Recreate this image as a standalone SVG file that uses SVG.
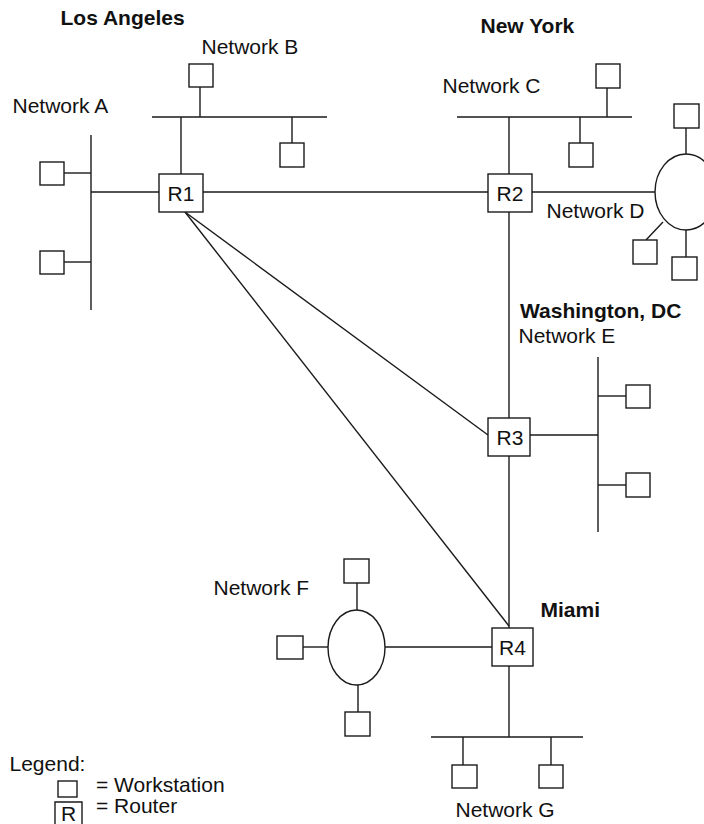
<svg xmlns="http://www.w3.org/2000/svg" width="704" height="824" viewBox="0 0 704 824">
<style>
  .ln { stroke: #1a1a1a; stroke-width: 1.4; fill: none; }
  .ws { stroke: #1a1a1a; stroke-width: 1.4; fill: #ffffff; }
  .rt { stroke: #1a1a1a; stroke-width: 1.4; fill: #ffffff; }
  .el { stroke: #1a1a1a; stroke-width: 1.4; fill: #ffffff; }
  text { font-family: "Liberation Sans", Arial, Helvetica, sans-serif; font-size: 21px; fill: #111111; }
  .b { font-weight: bold; }
  .c { text-anchor: middle; }
</style>
<rect x="0" y="0" width="704" height="824" fill="#ffffff"/>

<g id="connectors">
  <line class="ln" x1="91" y1="192" x2="159" y2="192"/>
  <line class="ln" x1="181" y1="117" x2="181" y2="174"/>
  <line class="ln" x1="203" y1="192" x2="488" y2="192"/>
  <line class="ln" x1="509" y1="117" x2="509" y2="174"/>
  <line class="ln" x1="532" y1="192" x2="655" y2="192"/>
  <line class="ln" x1="509" y1="212" x2="509" y2="418"/>
  <line class="ln" x1="185" y1="212" x2="488" y2="435"/>
  <line class="ln" x1="185" y1="212" x2="509" y2="626"/>
  <line class="ln" x1="530" y1="435" x2="598" y2="435"/>
  <line class="ln" x1="509" y1="456" x2="509" y2="628"/>
  <line class="ln" x1="385" y1="647" x2="492" y2="647"/>
  <line class="ln" x1="509" y1="666" x2="509" y2="737"/>
</g>

<g id="labels">
  <text class="b" x="60.5" y="25">Los Angeles</text>
  <text class="b" x="480.5" y="33">New York</text>
  <text class="b" x="520" y="318">Washington, DC</text>
  <text class="b" x="540.5" y="617">Miami</text>
</g>

<g id="networkA">
  <line class="ln" x1="91" y1="135" x2="91" y2="310"/>
  <line class="ln" x1="64" y1="173" x2="91" y2="173"/>
  <line class="ln" x1="64" y1="262" x2="91" y2="262"/>
  <rect class="ws" x="40" y="162" width="24" height="23"/>
  <rect class="ws" x="40" y="251" width="24" height="23"/>
  <text x="12.5" y="113">Network A</text>
</g>

<g id="networkB">
  <line class="ln" x1="152" y1="117" x2="327" y2="117"/>
  <line class="ln" x1="200" y1="87" x2="200" y2="117"/>
  <line class="ln" x1="292" y1="117" x2="292" y2="143"/>
  <rect class="ws" x="189" y="64" width="24" height="23"/>
  <rect class="ws" x="280" y="143" width="24" height="24"/>
  <text x="201.5" y="54">Network B</text>
</g>

<g id="networkC">
  <line class="ln" x1="457" y1="117" x2="632" y2="117"/>
  <line class="ln" x1="607" y1="88" x2="607" y2="117"/>
  <line class="ln" x1="580" y1="117" x2="580" y2="143"/>
  <rect class="ws" x="596" y="64" width="24" height="24"/>
  <rect class="ws" x="569" y="143" width="24" height="24"/>
  <text x="442.5" y="93">Network C</text>
</g>

<g id="networkD">
  <line class="ln" x1="686" y1="128" x2="686" y2="154"/>
  <line class="ln" x1="646" y1="240" x2="663" y2="222"/>
  <line class="ln" x1="686" y1="230" x2="686" y2="257"/>
  <ellipse class="el" cx="686" cy="192" rx="31" ry="38"/>
  <rect class="ws" x="674" y="104" width="25" height="24"/>
  <rect class="ws" x="633" y="240" width="24" height="24"/>
  <rect class="ws" x="672" y="257" width="25" height="23"/>
  <text x="546.5" y="218">Network D</text>
</g>

<g id="networkE">
  <line class="ln" x1="598" y1="357" x2="598" y2="532"/>
  <line class="ln" x1="598" y1="396" x2="626" y2="396"/>
  <line class="ln" x1="598" y1="485" x2="626" y2="485"/>
  <rect class="ws" x="626" y="385" width="24" height="23"/>
  <rect class="ws" x="626" y="473" width="24" height="24"/>
  <text x="518.5" y="343">Network E</text>
</g>

<g id="networkF">
  <line class="ln" x1="357" y1="583" x2="357" y2="610"/>
  <line class="ln" x1="303" y1="647" x2="328" y2="647"/>
  <line class="ln" x1="358" y1="685" x2="358" y2="712"/>
  <ellipse class="el" cx="356.5" cy="647.5" rx="28.5" ry="37.5"/>
  <rect class="ws" x="344" y="559" width="25" height="24"/>
  <rect class="ws" x="277" y="636" width="26" height="23"/>
  <rect class="ws" x="345" y="712" width="25" height="24"/>
  <text x="213.5" y="595">Network F</text>
</g>

<g id="networkG">
  <line class="ln" x1="431" y1="737" x2="583" y2="737"/>
  <line class="ln" x1="463" y1="737" x2="463" y2="765"/>
  <line class="ln" x1="551" y1="737" x2="551" y2="765"/>
  <rect class="ws" x="452" y="765" width="25" height="23"/>
  <rect class="ws" x="539" y="765" width="24" height="23"/>
  <text x="455.5" y="817">Network G</text>
</g>

<g id="R1">
  <rect class="rt" x="159" y="174" width="44" height="38"/>
  <text class="c" x="181" y="201">R1</text>
</g>
<g id="R2">
  <rect class="rt" x="488" y="174" width="44" height="38"/>
  <text class="c" x="510" y="201">R2</text>
</g>
<g id="R3">
  <rect class="rt" x="488" y="418" width="42" height="38"/>
  <text class="c" x="510" y="445">R3</text>
</g>
<g id="R4">
  <rect class="rt" x="492" y="628" width="41" height="38"/>
  <text class="c" x="512.5" y="655">R4</text>
</g>

<g id="legend">
  <text x="9.5" y="771">Legend:</text>
  <rect class="ws" x="58" y="781" width="19" height="16"/>
  <text x="96" y="792">= Workstation</text>
  <path class="ln" d="M55,830 L55,802 L82,802 L82,830"/>
  <text class="c" x="68.5" y="821">R</text>
  <text x="96" y="813">= Router</text>
</g>
</svg>
